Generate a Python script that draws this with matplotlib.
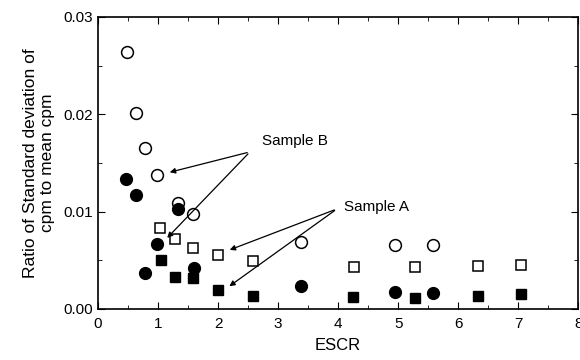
import matplotlib
matplotlib.use("Agg")
import matplotlib.pyplot as plt
from matplotlib.ticker import MultipleLocator

plt.rcParams['font.family'] = ['Liberation Sans', 'DejaVu Sans']

# Sample B (circles)
b_x = [0.48, 0.63, 0.78, 0.98, 1.33, 1.58, 3.38, 4.95, 5.58]
b_open = [0.0264, 0.0201, 0.0165, 0.0138, 0.0109, 0.0097, 0.0069, 0.0066, 0.0066]
b_fill_x = [0.47, 0.63, 0.78, 0.98, 1.33, 1.60, 3.38, 4.94, 5.58]
b_fill = [0.0133, 0.0117, 0.0037, 0.0067, 0.0103, 0.0042, 0.0023, 0.0017, 0.0016]

# Sample A (squares)
a_x = [1.03, 1.28, 1.58, 2.0, 2.58, 4.27, 5.28, 6.33, 7.05]
a_open = [0.0083, 0.0072, 0.0063, 0.0055, 0.0049, 0.0043, 0.0043, 0.0044, 0.0045]
a_fill_x = [1.05, 1.28, 1.58, 2.0, 2.58, 4.25, 5.28, 6.33, 7.05]
a_fill = [0.0050, 0.0033, 0.0032, 0.0019, 0.0013, 0.0012, 0.0011, 0.0013, 0.0015]

fig = plt.figure(figsize=(5.8, 3.6), dpi=100)
ax = fig.add_axes([0.169, 0.142, 0.828, 0.811])

ax.plot(b_x, b_open, 'o', mfc='white', mec='black', mew=1.1, ms=8.5, ls='none')
ax.plot(b_fill_x, b_fill, 'o', mfc='black', mec='black', ms=8.5, ls='none')
ax.plot(a_x, a_open, 's', mfc='white', mec='black', mew=1.1, ms=7.5, ls='none')
ax.plot(a_fill_x, a_fill, 's', mfc='black', mec='black', ms=7.5, ls='none')

arrow = dict(arrowstyle='-|>', color='black', lw=0.9, mutation_scale=8)
ax.annotate('', xy=(1.15, 0.01397), xytext=(2.53, 0.01613), arrowprops=arrow)
ax.annotate('', xy=(1.12, 0.00709), xytext=(2.53, 0.01613), arrowprops=arrow)
ax.annotate('', xy=(2.15, 0.00596), xytext=(3.98, 0.01027), arrowprops=arrow)
ax.annotate('', xy=(2.15, 0.00216), xytext=(3.98, 0.01027), arrowprops=arrow)
ax.text(2.73, 0.0172, 'Sample B', fontsize=11, va='center', ha='left')
ax.text(4.1, 0.0105, 'Sample A', fontsize=11, va='center', ha='left')

ax.set_xlim(0, 8)
ax.set_ylim(0, 0.03)
ax.xaxis.set_major_locator(MultipleLocator(1))
ax.xaxis.set_minor_locator(MultipleLocator(0.5))
ax.yaxis.set_major_locator(MultipleLocator(0.01))
ax.yaxis.set_minor_locator(MultipleLocator(0.005))
ax.yaxis.set_major_formatter(plt.FuncFormatter(lambda v, p: f"{v:.2f}"))
ax.tick_params(which='both', direction='in', top=True, right=True, labelsize=11)
ax.tick_params(axis='x', which='major', pad=6)
ax.tick_params(which='major', length=5)
ax.tick_params(which='minor', length=3)
for s in ax.spines.values():
    s.set_linewidth(1.2)

ax.set_xlabel('ESCR', fontsize=12, labelpad=5)
ax.set_ylabel('Ratio of Standard deviation of\ncpm to mean cpm', fontsize=12.5, labelpad=6)

fig.savefig('out.png', dpi=100)
